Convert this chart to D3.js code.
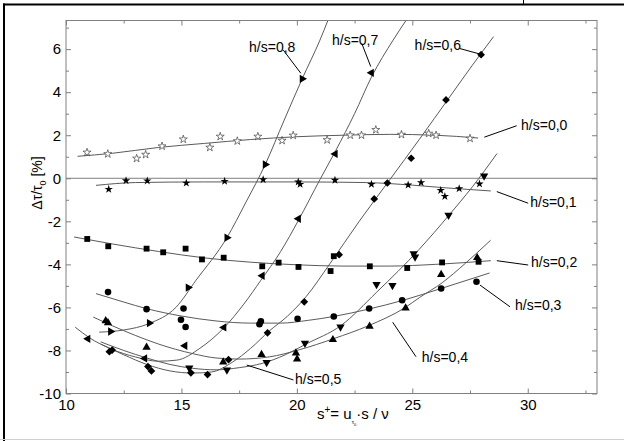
<!DOCTYPE html>
<html><head><meta charset="utf-8">
<script src="https://cdn.jsdelivr.net/npm/d3@7"></script>
<style>
body{margin:0;background:#fff}
svg{display:block}
text{font-family:"Liberation Sans",Arial,sans-serif;fill:#000}
</style>
</head><body>
<svg id="c" width="624" height="441"></svg>
<script>
// ---- data ----
const xTicks = [10, 15, 20, 25, 30];
const xMinor = [12.5, 17.5, 22.5, 27.5, 32.5];
const yTicks = [-10, -8, -6, -4, -2, 0, 2, 4, 6];
const yMinor = [-9, -7, -5, -3, -1, 1, 3, 5, 7];

const seriesNames = ["h/s=0,0","h/s=0,1","h/s=0,2","h/s=0,3","h/s=0,4","h/s=0,5","h/s=0,6","h/s=0,7","h/s=0,8"];

// measured points [s+, delta tau / tau0 %]
const pts00 = [[10.91,1.20],[11.81,1.13],[13.06,0.92],[13.45,1.10],[14.16,1.49],[15.08,1.81],[16.23,1.43],[16.68,1.94],[17.42,1.73],[18.31,1.94],[19.36,1.75],[19.84,1.99],[21.31,1.78],[22.31,2.0],[22.80,2.0],[23.42,2.25],[24.53,2.03],[25.71,2.08],[26.03,2.0],[27.50,1.85]];
const pts01 = [[11.85,-0.51],[12.60,-0.11],[13.52,-0.12],[15.21,-0.22],[16.87,-0.14],[18.54,-0.06],[20.06,-0.17],[20.14,-0.28],[21.65,-0.09],[23.23,-0.28],[24.82,-0.31],[25.38,-0.2],[26.23,-0.56],[26.41,-0.84],[27.03,-0.48],[27.91,-0.26]];
const pts02 = [[10.92,-2.82],[11.83,-3.16],[13.49,-3.27],[14.21,-3.44],[15.18,-3.27],[15.89,-3.77],[16.83,-3.69],[18.50,-4.09],[19.21,-3.92],[20.07,-4.12],[21.46,-4.31],[21.6,-3.62],[23.16,-4.09],[24.78,-4.17],[26.29,-3.91],[27.87,-3.88]];
const pts03 = [[11.82,-5.29],[13.49,-6.08],[15.09,-6.05],[14.98,-6.57],[15.18,-6.91],[18.44,-6.64],[18.38,-6.78],[20.03,-6.53],[21.60,-6.42],[23.13,-6.05],[24.56,-5.67],[26.25,-5.12],[27.78,-4.81]];
const pts04 = [[11.72,-6.62],[11.82,-6.72],[13.49,-7.85],[16.81,-8.54],[18.47,-8.19],[19.96,-8.12],[20.01,-8.40],[21.56,-7.50],[23.15,-6.88],[24.71,-6.03],[26.25,-4.47],[27.81,-3.69]];
const pts05 = [[15.34,-8.81],[16.97,-8.90],[18.69,-8.56],[20.35,-7.66],[21.89,-6.91],[23.45,-4.93],[24.14,-4.98],[25.06,-3.50],[25.12,-3.65],[26.57,-1.71],[28.11,0.11]];
const pts06 = [[11.88,-8.06],[12.0,-7.98],[13.55,-8.75],[13.7,-8.95],[15.41,-9.04],[16.13,-9.12],[17.04,-8.43],[18.73,-7.18],[20.32,-5.74],[21.83,-3.55],[23.35,-0.96],[23.92,-0.22],[24.95,0.93],[26.46,3.64],[27.98,5.74]];
const pts07 = [[10.95,-7.46],[13.41,-8.37],[15.15,-7.78],[16.84,-6.93],[18.50,-4.53],[20.07,-1.88],[21.66,1.13],[23.23,4.90]];
const pts08 = [[11.93,-7.12],[13.61,-6.73],[15.29,-5.08],[16.97,-2.76],[18.63,0.64],[20.23,4.62]];

// fitted curves
const fit00 = [[10.5,1.02],[12,1.16],[14,1.43],[16,1.62],[18,1.8],[20,1.93],[22,2.0],[24,2.04],[26,2.0],[27.85,1.87]];
const fit01 = [[11.3,-0.33],[13,-0.2],[16,-0.17],[20,-0.17],[23,-0.2],[25,-0.32],[26.5,-0.45],[28.4,-0.59]];
const fit02 = [[10.35,-2.73],[12,-3.05],[14,-3.4],[16,-3.7],[18,-3.9],[20,-4.02],[22,-4.08],[24,-4.08],[26,-4.0],[28.4,-3.83]];
const fit03 = [[11.3,-5.36],[12.5,-5.75],[13.5,-6.06],[15,-6.4],[16.5,-6.63],[18,-6.73],[19.3,-6.73],[20.5,-6.6],[21.6,-6.42],[23.1,-6.08],[24.6,-5.67],[26.25,-5.12],[28.35,-4.4]];
const fit04 = [[11.18,-6.45],[12,-6.85],[13,-7.3],[14,-7.7],[15.5,-8.15],[16.5,-8.35],[17.5,-8.4],[18.8,-8.3],[20.1,-7.97],[21.6,-7.45],[23.1,-6.85],[24.7,-6.0],[25.3,-5.55],[26.3,-4.85],[27.3,-3.95],[28.39,-2.88]];
const fit05 = [[11.5,-7.6],[12.5,-8.0],[13.5,-8.35],[14.5,-8.65],[15.5,-8.83],[16.5,-8.9],[17.5,-8.8],[18.5,-8.6],[19.5,-8.2],[20.4,-7.7],[21.9,-6.85],[23.45,-5.3],[25.3,-3.3],[26.6,-1.7],[27.6,-0.4],[28.67,1.15]];
const fit06 = [[11.5,-7.7],[12.5,-8.2],[13.5,-8.65],[14.5,-8.95],[15.5,-9.05],[16.3,-9.0],[17.2,-8.55],[18.0,-7.9],[18.8,-7.1],[19.6,-6.4],[20.4,-5.5],[21.43,-3.97],[22.7,-2.0],[24.03,-0.06],[25.3,1.8],[26.62,3.78],[27.6,5.25],[28.52,6.58]];
const fit07 = [[10.4,-6.92],[11,-7.4],[12,-7.95],[13,-8.3],[14,-8.5],[14.8,-8.45],[15.8,-7.9],[16.84,-6.95],[17.7,-5.85],[18.44,-4.74],[19.3,-3.4],[20.07,-1.95],[21.0,-0.06],[21.69,1.3],[22.5,3.0],[23.23,4.7],[24.17,6.42],[24.72,7.32]];
const fit08 = [[11.44,-7.15],[12.5,-7.05],[13.6,-6.75],[14.76,-6.0],[15.63,-4.74],[16.97,-2.76],[17.8,-1.1],[18.63,0.64],[19.45,2.7],[20.23,4.62],[21.0,6.42],[21.34,7.32]];

// label anchors [text s, text v, leader from s, v, leader to s, v]
const labels00 = [29.71, 2.48, 28.12, 1.91, 29.52, 2.44];
const labels01 = [30.11, -1.09, 28.66, -0.62, 30.02, -1.16];
const labels02 = [30.14, -3.89, 28.66, -3.83, 30.02, -4.03];
const labels03 = [29.45, -5.89, 27.93, -4.96, 29.23, -5.97];
const labels04 = [25.41, -8.29, 24.15, -6.69, 25.16, -8.29];
const labels05 = [19.92, -9.33, 17.83, -8.68, 19.85, -9.37];
const labels06 = [25.10, 6.19, 27.05, 6.03, 28.0, 5.75];
const labels07 = [21.52, 6.43, 22.81, 6.27, 23.20, 5.19];
const labels08 = [17.93, 6.10, 19.41, 5.96, 20.17, 4.88];

// ---- drawing ----
const svg = d3.select("#c");
const L = 66, R = 597, T = 20.5, B = 393.5;
const x = d3.scaleLinear().domain([10, 33]).range([L, R]);
const y = d3.scaleLinear().domain([-10, 7.33]).range([B, T]);

// outer frame
svg.append("rect").attr("x",0).attr("y",0).attr("width",624).attr("height",441).attr("fill","#fff");
svg.append("line").attr("x1",3).attr("x2",624).attr("y1",4.5).attr("y2",4.5).attr("stroke","#000").attr("stroke-width",2);
svg.append("line").attr("x1",523.5).attr("x2",523.5).attr("y1",0).attr("y2",4).attr("stroke","#000").attr("stroke-width",1);
svg.append("line").attr("x1",4).attr("x2",4).attr("y1",3.5).attr("y2",441).attr("stroke","#000").attr("stroke-width",2);
svg.append("line").attr("x1",0).attr("x2",624).attr("y1",439.5).attr("y2",439.5).attr("stroke","#d0d0d0").attr("stroke-width",1);

const axCol = "#808080";
const g = svg.append("g");

function styleAxis(sel){
  sel.select(".domain").remove();
  sel.selectAll(".tick line").attr("stroke", axCol);
  sel.selectAll("text").attr("font-size", 15).attr("font-family", '"Liberation Sans",Arial,sans-serif').attr("fill","#000");
}
g.append("g").attr("transform",`translate(0,${B})`)
  .call(d3.axisBottom(x).tickValues(xTicks).tickSize(-5).tickPadding(6).tickFormat(d3.format("d"))).call(styleAxis);
g.append("g").attr("transform",`translate(0,${B})`)
  .call(d3.axisBottom(x).tickValues(xMinor).tickSize(-3).tickFormat("")).call(styleAxis);
g.append("g").attr("transform",`translate(0,${T})`)
  .call(d3.axisTop(x).tickValues(xTicks).tickSize(-5).tickFormat("")).call(styleAxis);
g.append("g").attr("transform",`translate(0,${T})`)
  .call(d3.axisTop(x).tickValues(xMinor).tickSize(-3).tickFormat("")).call(styleAxis);
g.append("g").attr("transform",`translate(${L},0)`)
  .call(d3.axisLeft(y).tickValues(yTicks).tickSize(-5).tickPadding(5).tickFormat(d3.format("d"))).call(styleAxis);
g.append("g").attr("transform",`translate(${L},0)`)
  .call(d3.axisLeft(y).tickValues(yMinor.filter(v=>v<7.3)).tickSize(-3).tickFormat("")).call(styleAxis);
g.append("g").attr("transform",`translate(${R},0)`)
  .call(d3.axisRight(y).tickValues(yTicks).tickSize(-5).tickFormat("")).call(styleAxis);
g.append("g").attr("transform",`translate(${R},0)`)
  .call(d3.axisRight(y).tickValues(yMinor.filter(v=>v<7.3)).tickSize(-3).tickFormat("")).call(styleAxis);

g.selectAll("text").text(function(){ return d3.select(this).text().replace("\u2212","-"); });

svg.append("rect").attr("x",L).attr("y",T).attr("width",R-L).attr("height",B-T)
  .attr("fill","none").attr("stroke",axCol).attr("stroke-width",1);

// zero line
svg.append("line").attr("x1",x(10)).attr("x2",x(33)).attr("y1",y(0)).attr("y2",y(0)).attr("stroke",axCol).attr("stroke-width",1);

svg.append("clipPath").attr("id","pc").append("rect").attr("x",L).attr("y",T).attr("width",R-L).attr("height",B-T);

const line = d3.line().x(d=>x(d[0])).y(d=>y(d[1])).curve(d3.curveMonotoneX);
const fits = [fit00,fit01,fit02,fit03,fit04,fit05,fit06,fit07,fit08];
const cg = svg.append("g").attr("clip-path","url(#pc)");
fits.forEach(f=>{
  cg.append("path").attr("d", line(f)).attr("fill","none").attr("stroke","#5a5a5a").attr("stroke-width",1);
});

// markers
const markers = [
  {pts:pts00, type:d3.symbolStar, size:20, rot:0, open:true},
  {pts:pts01, type:d3.symbolStar, size:22, rot:0},
  {pts:pts02, type:d3.symbolSquare, size:34, rot:0},
  {pts:pts03, type:d3.symbolCircle, size:34, rot:0},
  {pts:pts04, type:d3.symbolTriangle, size:30, rot:0},
  {pts:pts05, type:d3.symbolTriangle, size:30, rot:180},
  {pts:pts06, type:d3.symbolSquare, size:30, rot:45},
  {pts:pts07, type:d3.symbolTriangle, size:30, rot:-90},
  {pts:pts08, type:d3.symbolTriangle, size:30, rot:90}
];
const mg = svg.append("g");
markers.forEach(m=>{
  const sym = d3.symbol().type(m.type).size(m.size);
  mg.selectAll(null).data(m.pts).enter().append("path")
    .attr("d", sym())
    .attr("transform", d=>`translate(${x(d[0])},${y(d[1])}) rotate(${m.rot})`)
    .attr("fill", m.open ? "#fff" : "#000")
    .attr("stroke", m.open ? "#444" : "none")
    .attr("stroke-width", m.open ? 0.7 : 0);
});

// labels
const labelSets = [labels00,labels01,labels02,labels03,labels04,labels05,labels06,labels07,labels08];
const lg = svg.append("g");
labelSets.forEach((a,i)=>{
  lg.append("line").attr("x1",x(a[2])).attr("y1",y(a[3])).attr("x2",x(a[4])).attr("y2",y(a[5]))
    .attr("stroke","#000").attr("stroke-width",1);
  lg.append("text").attr("x",x(a[0])).attr("y",y(a[1])).attr("dy","0.35em")
    .attr("font-size",14).text(seriesNames[i]);
});

// axis titles
const xt = svg.append("text").attr("x",317).attr("y",419).attr("font-size",15);
xt.append("tspan").text("s");
xt.append("tspan").attr("dy",-6).attr("font-size",10).text("+");
xt.append("tspan").attr("dy",6).text("= u");
xt.append("tspan").attr("dy",5).attr("font-size",6).text("\u03C4");
xt.append("tspan").attr("dy",2).attr("font-size",4).text("0");
xt.append("tspan").attr("dy",-7).text("\u00B7s / \u03BD");

const yt = svg.append("text").attr("transform","translate(42,183) rotate(-90)").attr("text-anchor","middle").attr("font-size",14);
yt.append("tspan").text("\u0394\u03C4/\u03C4");
yt.append("tspan").attr("dy",4).attr("font-size",9).text("0");
yt.append("tspan").attr("dy",-4).text(" [%]");
</script>
</body></html>
